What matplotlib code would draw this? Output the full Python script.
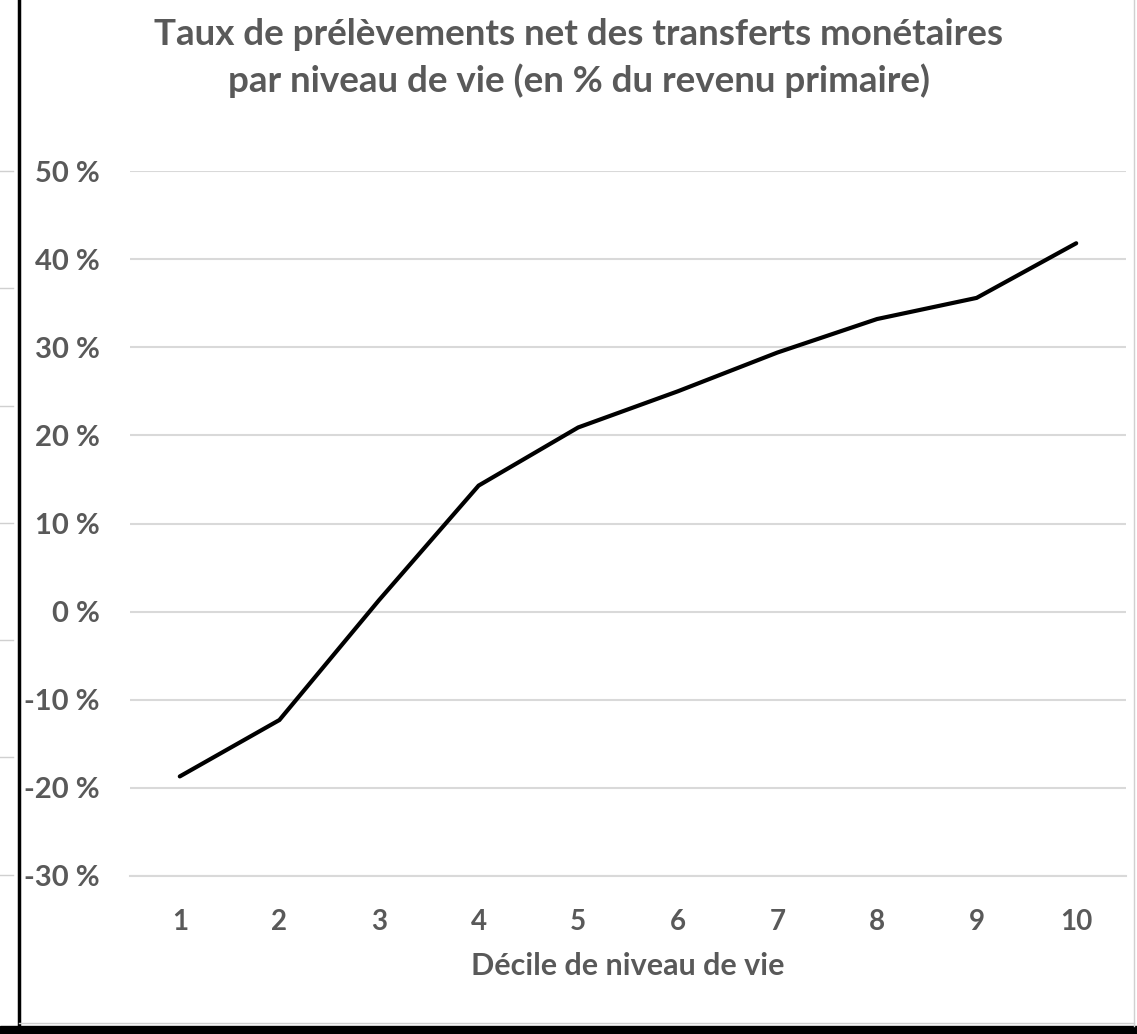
import matplotlib
matplotlib.use("Agg")
import matplotlib.pyplot as plt
from matplotlib.lines import Line2D
from matplotlib.patches import Rectangle

deciles = [1, 2, 3, 4, 5, 6, 7, 8, 9, 10]
taux = [-18.7, -12.3, 1.3, 14.3, 20.9, 25.0, 29.4, 33.2, 35.6, 41.8]
yticks = [-30, -20, -10, 0, 10, 20, 30, 40, 50]
ytick_labels = [f"{v} %" for v in yticks]

title = "Taux de prélèvements net des transferts monétaires\npar niveau de vie (en % du revenu primaire)"
xlabel = "Décile de niveau de vie"

plt.rcParams['font.family'] = ['Lato', 'DejaVu Sans']
W, H = 1137, 1034
fig = plt.figure(figsize=(W / 100, H / 100), dpi=100)
fig.patch.set_facecolor('white')

ax = fig.add_axes([130 / W, 1 - 876 / H, (1126 - 130) / W, (876 - 171) / H])
ax.plot(deciles, taux, color='black', lw=3.0, solid_capstyle='round', solid_joinstyle='miter', zorder=3)
ax.set_xlim(0.5, 10.5)
ax.set_ylim(-30, 50)
ax.set_yticks(yticks)
ax.set_yticklabels(ytick_labels)
ax.set_xticks(deciles)
ax.grid(axis='y', color='#d9d9d9', lw=1.5)
ax.set_axisbelow(True)
for s in ax.spines.values():
    s.set_visible(False)
ax.spines['bottom'].set_visible(True)
ax.spines['bottom'].set_color('#d9d9d9')
ax.spines['bottom'].set_linewidth(1.5)
ax.tick_params(axis='both', length=0, labelcolor='#595959')
ax.tick_params(axis='x', labelsize=20, pad=24)
ax.tick_params(axis='y', labelsize=21, pad=22)
for lbl in ax.get_xticklabels() + ax.get_yticklabels():
    lbl.set_fontweight('bold')

ax.set_xlabel(xlabel, fontsize=22, fontweight='bold', color='#595959', labelpad=12)

fig.text(579 / W, 1 - 58 / H, title, ha='center', va='center', fontsize=26.5,
         fontweight='bold', color='#595959', linespacing=1.4)

# decorative frame elements
fig.add_artist(Line2D([19 / W, 19 / W], [1 - 1026 / H, 1], transform=fig.transFigure, color='black', lw=2.5))
fig.add_artist(Line2D([1134 / W, 1134 / W], [1 - 1026 / H, 1], transform=fig.transFigure, color='#d0d0d0', lw=1))
for y in [171, 288, 406, 523, 640, 757, 875]:
    fig.add_artist(Line2D([0, 13 / W], [1 - y / H, 1 - y / H], transform=fig.transFigure, color='#d0d0d0', lw=1))
fig.add_artist(Line2D([19 / W, 1134 / W], [1 - 1023 / H, 1 - 1023 / H], transform=fig.transFigure, color='#d0d0d0', lw=1))
fig.add_artist(Rectangle((0, 0), 1, (H - 1026) / H, transform=fig.transFigure, color='black'))

fig.savefig('out.png', dpi=100)
